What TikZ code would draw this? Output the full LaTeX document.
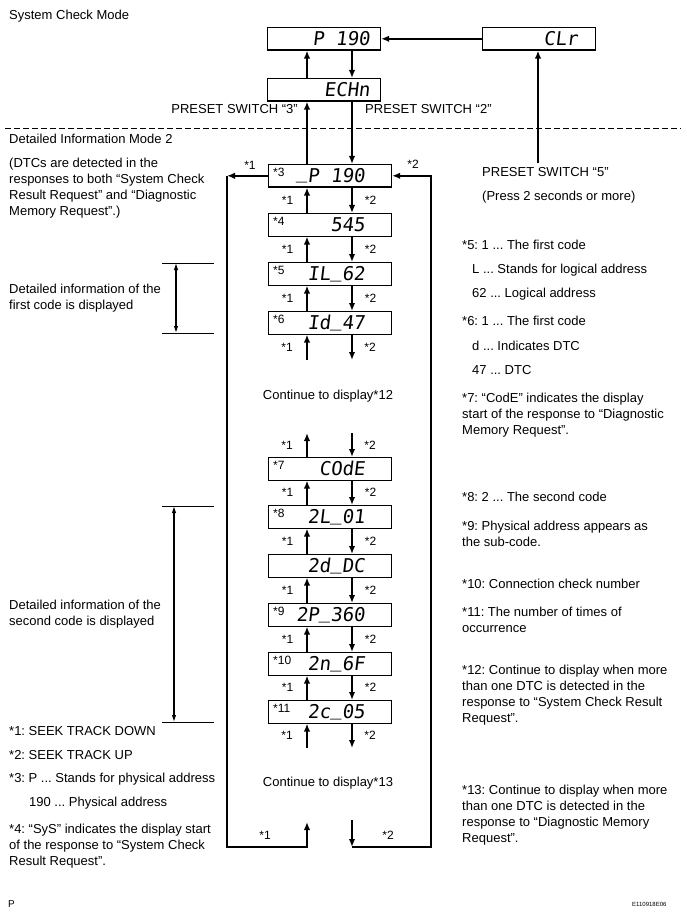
\documentclass[tikz,border=0pt]{standalone}
\usepackage{fontspec}
\setmainfont{Liberation Sans}
\newfontfamily\segfont[FakeSlant=0.12]{DejaVu Sans Mono}
\usetikzlibrary{arrows.meta}
\newcommand\segus{\raisebox{0.2em}{\_}}
\frenchspacing
\begin{document}
\begin{tikzpicture}[x=1pt,y=-1pt,
  every node/.style={inner sep=0pt, font=\fontsize{13}{16}\selectfont},
  txt/.style={anchor=base west, align=left},
  lab/.style={font=\fontsize{12}{14}\selectfont},
  dbox/.style={draw, line width=1.1pt, minimum height=22.5pt, anchor=north west},
  colbox/.style={dbox, minimum width=123pt},
  topbox/.style={dbox, minimum width=113pt},
  seg/.style={font=\segfont\fontsize{19}{19}\selectfont, anchor=base east},
  arr/.style={line width=1.8pt, -{Latex[length=8pt,width=6.5pt]}},
  loopl/.style={line width=2.4pt},
  brk/.style={line width=0.7pt},
  brkarr/.style={line width=1.1pt, {Latex[length=7pt,width=4.5pt]}-{Latex[length=7pt,width=4.5pt]}},
]
\useasboundingbox (0,0) rectangle (687,917);
% reference coordinates
\coordinate (ux) at (307,0);
\coordinate (dx) at (352,0);
\coordinate (lx) at (227,0);
\coordinate (rx) at (431,0);
\coordinate (bot) at (0,847);

% top boxes
\node[topbox] (p190) at (267,27) {};
\node[topbox] (ech) at (267,78) {};
\node[topbox] (clr) at (482,27) {};
\node[seg] (tp190) at ([xshift=-11pt,yshift=-7pt]p190.east) {P 190};
\node[seg] (tech) at ([xshift=-11pt,yshift=-7pt]ech.east) {ECHn};
\node[seg] (tclr) at ([xshift=-18pt,yshift=-7pt]clr.east) {CLr};

% column boxes
\node[colbox] (b3) at (268,164) {};
\node[colbox] (b4) at (268,213) {};
\node[colbox] (b5) at (268,262) {};
\node[colbox] (b6) at (268,311) {};
\node[colbox] (b7) at (268,457) {};
\node[colbox] (b8) at (268,505) {};
\node[colbox] (b9a) at (268,554) {};
\node[colbox] (b9) at (268,603) {};
\node[colbox] (b10) at (268,652) {};
\node[colbox] (b11) at (268,700) {};

\node[seg] (t3) at ([xshift=-27pt,yshift=-7pt]b3.east) {\segus P 190};
\node[seg] (t4) at ([xshift=-27pt,yshift=-7pt]b4.east) {545};
\node[seg] (t5) at ([xshift=-27pt,yshift=-7pt]b5.east) {IL\segus 62};
\node[seg] (t6) at ([xshift=-27pt,yshift=-7pt]b6.east) {Id\segus 47};
\node[seg] (t7) at ([xshift=-27pt,yshift=-7pt]b7.east) {COdE};
\node[seg] (t8) at ([xshift=-27pt,yshift=-7pt]b8.east) {2L\segus 01};
\node[seg] (t9a) at ([xshift=-27pt,yshift=-7pt]b9a.east) {2d\segus DC};
\node[seg] (t9) at ([xshift=-27pt,yshift=-7pt]b9.east) {2P\segus 360};
\node[seg] (t10) at ([xshift=-27pt,yshift=-7pt]b10.east) {2n\segus 6F};
\node[seg] (t11) at ([xshift=-27pt,yshift=-7pt]b11.east) {2c\segus 05};

\foreach \b/\t in {b3/*3,b4/*4,b5/*5,b6/*6,b7/*7,b8/*8,b9/*9,b10/*10,b11/*11}
  \node[lab, anchor=north west] (n\b) at ([xshift=5pt,yshift=-4pt]\b.north west) {\t};

% arrows between column boxes
\foreach \a/\b in {b3/b4,b4/b5,b5/b6,b7/b8,b8/b9a,b9a/b9,b9/b10,b10/b11}{
  \draw[arr] (\b.north -| ux) -- (\a.south -| ux);
  \draw[arr] (\a.south -| dx) -- (\b.north -| dx);
  \path (\a.south) -- coordinate[midway] (m\a) (\b.north);
  \node[lab] (s1\a) at ([xshift=-42.5pt]m\a) {*1};
  \node[lab] (s2\a) at ([xshift=40.5pt]m\a) {*2};
}

% free arrow ends
\coordinate (u6) at (307,360);
\coordinate (d6) at (352,360);
\coordinate (u7) at (307,433);
\coordinate (d7) at (352,433);
\coordinate (u11) at (307,748);
\coordinate (d11) at (352,748);
\draw[arr] (u6) -- (b6.south -| ux);
\draw[arr] (b6.south -| dx) -- (d6);
\draw[arr] (b7.north -| ux) -- (u7);
\draw[arr] (d7) -- (b7.north -| dx);
\draw[arr] (u11) -- (b11.south -| ux);
\draw[arr] (b11.south -| dx) -- (d11);
\node[lab] (s16) at (287,347) {*1};
\node[lab] (s26) at (370,347) {*2};
\node[lab] (s17) at (287,445) {*1};
\node[lab] (s27) at (370,445) {*2};
\node[lab] (s111) at (287,735) {*1};
\node[lab] (s211) at (370,735) {*2};

% top arrows
\draw[arr] (ech.north -| ux) -- (p190.south -| ux);
\draw[arr] (p190.south -| dx) -- (ech.north -| dx);
\draw[arr] (b3.north -| ux) -- (ech.south -| ux);
\draw[arr] (ech.south -| dx) -- (b3.north -| dx);
\draw[arr] (clr.west) -- (p190.east);
\coordinate (c5) at (538,163);
\draw[arr] (c5) -- (clr.south -| c5);

% loop
\coordinate (ue) at (307,822);
\coordinate (de) at (352,820);
\draw[loopl, -{Latex[length=8pt,width=6.5pt]}] (b3.west) -- (b3.west -| lx);
\draw[loopl, -{Latex[length=8pt,width=6.5pt]}] (b3.west -| lx) -- (lx |- bot) -- (ux |- bot) -- (ue);
\draw[loopl, -{Latex[length=8pt,width=6.5pt]}] (de) -- (dx |- bot);
\draw[loopl, -{Latex[length=8pt,width=6.5pt]}] (dx |- bot) -- (rx |- bot) -- (b3.east -| rx) -- (b3.east);
\node[lab] (l1t) at (250,165) {*1};
\node[lab] (l2t) at (413,164) {*2};
\node[lab] (l1b) at (265,835) {*1};
\node[lab] (l2b) at (388,835) {*2};

% dashed separator
\coordinate (dl) at (5,128);
\coordinate (dr) at (681,128);
\draw[line width=0.8pt, dash pattern=on 6pt off 3pt] (dl) -- (dr);

% brackets
\coordinate (k1a) at (162,263);
\coordinate (k1b) at (214,263);
\coordinate (k1c) at (162,333);
\coordinate (k1d) at (214,333);
\draw[brk] (k1a) -- (k1b);
\draw[brk] (k1c) -- (k1d);
\coordinate (k1x) at (176,263);
\coordinate (k1y) at (176,333);
\draw[brkarr] (k1x) -- (k1y);
\coordinate (k2a) at (162,506);
\coordinate (k2b) at (214,506);
\coordinate (k2c) at (162,722);
\coordinate (k2d) at (214,722);
\draw[brk] (k2a) -- (k2b);
\draw[brk] (k2c) -- (k2d);
\coordinate (k2x) at (174,506);
\coordinate (k2y) at (174,722);
\draw[brkarr] (k2x) -- (k2y);

% texts (multi-line nodes are placed by the baseline of their last line)
\node[txt] (hsys) at (9,19.5) {System Check Mode};
\node[txt] (hdet) at (9,143.5) {Detailed Information Mode 2};
\node[txt, anchor=base east] (ps3) at (298,113.5) {PRESET SWITCH “3”};
\node[txt] (ps2) at (365,113.5) {PRESET SWITCH “2”};
\node[txt] (ps5) at (482,176.5) {PRESET SWITCH “5”};
\node[txt] (ps5b) at (482,200.5) {(Press 2 seconds or more)};
\node[txt] (dtc) at (9,215.5) {(DTCs are detected in the\\responses to both “System Check\\Result Request” and “Diagnostic\\Memory Request”.)};
\node[txt] (fc) at (9,309.5) {Detailed information of the\\first code is displayed};
\node[txt] (sc) at (9,625.5) {Detailed information of the\\second code is displayed};
\node[txt] (f1) at (9,735.5) {*1: SEEK TRACK DOWN};
\node[txt] (f2) at (9,759.5) {*2: SEEK TRACK UP};
\node[txt] (f3) at (9,782.5) {*3: P ... Stands for physical address};
\node[txt] (f3b) at (29,806.5) {190 ... Physical address};
\node[txt] (f4) at (9,865.5) {*4: “SyS” indicates the display start\\of the response to “System Check\\Result Request”.};
\node[txt, anchor=base] (c12) at (328,399.5) {Continue to display*12};
\node[txt, anchor=base] (c13) at (328,786.5) {Continue to display*13};
\node[txt] (r5) at (462,249.5) {*5: 1 ... The first code};
\node[txt] (r5b) at (472,273.5) {L ... Stands for logical address};
\node[txt] (r5c) at (472,297.5) {62 ... Logical address};
\node[txt] (r6) at (462,325.5) {*6: 1 ... The first code};
\node[txt] (r6b) at (472,350) {d ... Indicates DTC};
\node[txt] (r6c) at (472,374) {47 ... DTC};
\node[txt] (r7) at (462,434.5) {*7: “CodE” indicates the display\\start of the response to “Diagnostic\\Memory Request”.};
\node[txt] (r8) at (462,501.5) {*8: 2 ... The second code};
\node[txt] (r9) at (462,546.5) {*9: Physical address appears as\\the sub-code.};
\node[txt] (r10) at (462,588) {*10: Connection check number};
\node[txt] (r11) at (462,632.5) {*11: The number of times of\\occurrence};
\node[txt] (r12) at (462,722.5) {*12: Continue to display when more\\than one DTC is detected in the\\response to “System Check Result\\Request”.};
\node[txt] (r13) at (462,842.5) {*13: Continue to display when more\\than one DTC is detected in the\\response to “Diagnostic Memory\\Request”.};
\node[txt, font=\fontsize{10}{12}\selectfont] (pp) at (8,907) {P};
\node[txt, font=\fontsize{6}{7}\selectfont] (code) at (632,906) {E110918E06};
\end{tikzpicture}
\end{document}
